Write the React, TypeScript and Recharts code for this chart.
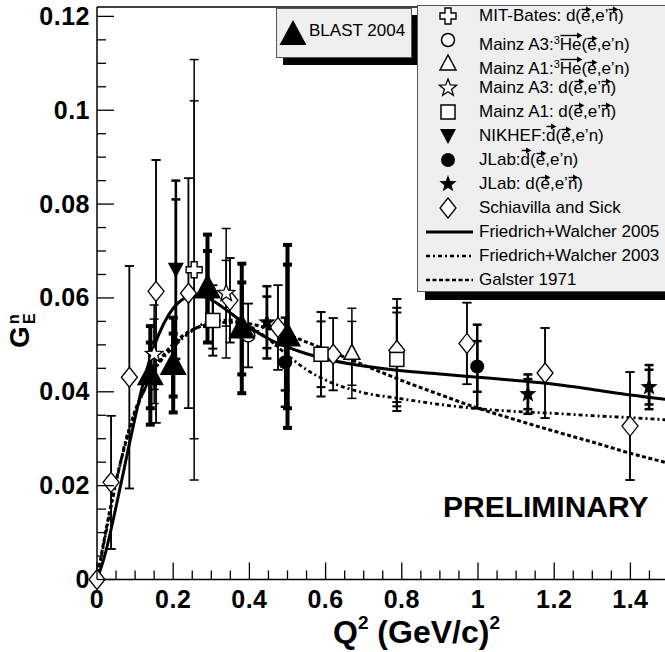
import React from "react";
import { ComposedChart, Line, Scatter, XAxis, YAxis, ErrorBar, ReferenceLine } from "recharts";

// each point: [Q2, GEn, inner error, outer error]
type Pt = [number, number, number, number];

const blast2004: Pt[] = [
  [0.14, 0.0435, 0.007, 0.0105],
  [0.2, 0.0457, 0.0067, 0.0101],
  [0.29, 0.062, 0.008, 0.0115],
  [0.38, 0.0535, 0.0098, 0.0138],
  [0.5, 0.0518, 0.0153, 0.0195],
];
const mitBates: Pt[] = [[0.255, 0.066, 0.036, 0.0448]];
const mainzA3He: Pt[] = [[0.397, 0.052, 0.0068, 0.0068]];
const mainzA1He: Pt[] = [[0.669, 0.0482, 0.0068, 0.0096]];
const mainzA3d: Pt[] = [[0.15, 0.048, 0.0075, 0.0105], [0.339, 0.061, 0.007, 0.0138]];
const mainzA1d: Pt[] = [[0.304, 0.0552, 0.006, 0.0075], [0.588, 0.048, 0.007, 0.009], [0.787, 0.0469, 0.01, 0.011]];
const nikhef: Pt[] = [[0.207, 0.066, 0.015, 0.019]];
const jlabPolD: Pt[] = [[0.494, 0.0463, 0.006, 0.0095], [0.998, 0.0454, 0.0054, 0.0089]];
const jlabPolN: Pt[] = [[0.446, 0.0548, 0.0055, 0.0077], [1.131, 0.0395, 0.0032, 0.0042], [1.449, 0.041, 0.0037, 0.0047]];
const schiavillaSick: Pt[] = [
  [0, 0, 0, 0],
  [0.037, 0.0207, 0.0142, 0.0142],
  [0.085, 0.0431, 0.0237, 0.0237],
  [0.155, 0.0614, 0.028, 0.028],
  [0.24, 0.061, 0.0245, 0.0245],
  [0.349, 0.0595, 0.009, 0.009],
  [0.475, 0.0537, 0.009, 0.009],
  [0.62, 0.048, 0.0077, 0.0077],
  [0.787, 0.0488, 0.011, 0.011],
  [0.971, 0.0503, 0.0087, 0.0087],
  [1.176, 0.044, 0.0096, 0.0096],
  [1.399, 0.0327, 0.0115, 0.0115],
];

// model curves
const fw2005Q2 = [0, 0.02, 0.05, 0.08, 0.1, 0.125, 0.15, 0.175, 0.2, 0.225, 0.25, 0.275, 0.3, 0.35, 0.4, 0.45, 0.5, 0.55, 0.6, 0.7, 0.8, 0.9, 1.0, 1.1, 1.2, 1.3, 1.4, 1.5];
const fw2005GE = [0, 0.005, 0.0155, 0.027, 0.0345, 0.043, 0.0497, 0.0545, 0.0578, 0.0597, 0.0605, 0.0604, 0.0596, 0.0568, 0.0538, 0.0513, 0.0495, 0.0481, 0.047, 0.0455, 0.0445, 0.0438, 0.0431, 0.0424, 0.0416, 0.0405, 0.0393, 0.0383];
const curveQ2 = [0, 0.02, 0.05, 0.08, 0.1, 0.125, 0.15, 0.2, 0.25, 0.3, 0.35, 0.4, 0.45, 0.5, 0.55, 0.6, 0.7, 0.8, 0.9, 1.0, 1.1, 1.2, 1.3, 1.4, 1.5];
const fw2003GE = [0, 0.0085, 0.0205, 0.031, 0.0355, 0.0405, 0.0445, 0.0495, 0.053, 0.0551, 0.0553, 0.054, 0.0512, 0.0478, 0.0447, 0.0425, 0.0398, 0.0385, 0.0373, 0.0364, 0.0358, 0.0354, 0.0349, 0.0345, 0.034];
const galsterGE = [0, 0.009, 0.021, 0.0305, 0.036, 0.0405, 0.0447, 0.0502, 0.0532, 0.0545, 0.0548, 0.0545, 0.0535, 0.0522, 0.0506, 0.049, 0.0457, 0.0424, 0.0394, 0.0365, 0.034, 0.0316, 0.0293, 0.0269, 0.0248];

const xTicks = [0, 0.05, 0.1, 0.15, 0.2, 0.25, 0.3, 0.35, 0.4, 0.45, 0.5, 0.55, 0.6, 0.65, 0.7, 0.75, 0.8, 0.85, 0.9, 0.95, 1, 1.05, 1.1, 1.15, 1.2, 1.25, 1.3, 1.35, 1.4, 1.45, 1.5];
const xLabels = [0, 0.2, 0.4, 0.6, 0.8, 1, 1.2, 1.4];
const yTicks = [0, 0.005, 0.01, 0.015, 0.02, 0.025, 0.03, 0.035, 0.04, 0.045, 0.05, 0.055, 0.06, 0.065, 0.07, 0.075, 0.08, 0.085, 0.09, 0.095, 0.1, 0.105, 0.11, 0.115, 0.12];
const yLabels = [0, 0.02, 0.04, 0.06, 0.08, 0.1, 0.12];

const FONT = '"Liberation Sans", Arial, Helvetica, sans-serif';

const toPts = (a: Pt[]) => a.map(([x, y, a1, a2]) => ({ x, y, a: a1, b: a2 }));
const toLine = (xs: number[], ys: number[]) => xs.map((x, i) => ({ x, y: ys[i] }));

function starPoints(cx: number, cy: number, R: number, r: number) {
  const pts: string[] = [];
  for (let i = 0; i < 10; i++) {
    const ang = -Math.PI / 2 + (i * Math.PI) / 5;
    const rad = i % 2 === 0 ? R : r;
    pts.push(`${cx + rad * Math.cos(ang)},${cy + rad * Math.sin(ang)}`);
  }
  return pts.join(" ");
}

function Marker({ kind, cx, cy }: { kind: string; cx: number; cy: number }) {
  const k = "#000";
  switch (kind) {
    case "blast":
      return <polygon points={`${cx},${cy - 15} ${cx - 13.5},${cy + 10} ${cx + 13.5},${cy + 10}`} fill={k} />;
    case "cross":
      return (
        <path
          d={`M${cx - 3},${cy - 8} h6 v5 h5 v6 h-5 v5 h-6 v-5 h-5 v-6 h5 Z`}
          fill="#fff" stroke={k} strokeWidth={1.4}
        />
      );
    case "circle":
      return <circle cx={cx} cy={cy} r={6.5} fill="#fff" stroke={k} strokeWidth={1.5} />;
    case "triangle":
      return <polygon points={`${cx},${cy - 9} ${cx - 8},${cy + 6} ${cx + 8},${cy + 6}`} fill="#fff" stroke={k} strokeWidth={1.5} />;
    case "ostar":
      return <polygon points={starPoints(cx, cy, 9, 3.8)} fill="#fff" stroke={k} strokeWidth={1.3} />;
    case "square":
      return <rect x={cx - 7} y={cy - 7} width={14} height={14} fill="#fff" stroke={k} strokeWidth={1.5} />;
    case "itriangle":
      return <polygon points={`${cx - 8},${cy - 7} ${cx + 8},${cy - 7} ${cx},${cy + 8}`} fill={k} />;
    case "fcircle":
      return <circle cx={cx} cy={cy} r={7} fill={k} />;
    case "fstar":
      return <polygon points={starPoints(cx, cy, 9, 3.8)} fill={k} />;
    case "diamond":
      return <polygon points={`${cx},${cy - 10} ${cx + 8},${cy} ${cx},${cy + 10} ${cx - 8},${cy}`} fill="#fff" stroke={k} strokeWidth={1.3} />;
    default:
      return null;
  }
}

const series = [
  { name: "Schiavilla and Sick", data: toPts(schiavillaSick), kind: "diamond", sw: 1.5 },
  { name: "MIT-Bates", data: toPts(mitBates), kind: "cross", sw: 1.5 },
  { name: "Mainz A3 3He", data: toPts(mainzA3He), kind: "circle", sw: 1.5 },
  { name: "Mainz A1 3He", data: toPts(mainzA1He), kind: "triangle", sw: 1.5 },
  { name: "Mainz A3 d", data: toPts(mainzA3d), kind: "ostar", sw: 1.5 },
  { name: "Mainz A1 d", data: toPts(mainzA1d), kind: "square", sw: 2 },
  { name: "NIKHEF", data: toPts(nikhef), kind: "itriangle", sw: 2.5 },
  { name: "JLab d", data: toPts(jlabPolD), kind: "fcircle", sw: 2.5 },
  { name: "JLab n", data: toPts(jlabPolN), kind: "fstar", sw: 2.5 },
  { name: "BLAST 2004", data: toPts(blast2004), kind: "blast", sw: 4 },
];

const fmt = (v: number) => String(+v.toFixed(3));
const isIn = (v: number, list: number[]) => list.some((l) => Math.abs(l - v) < 1e-6);

function YTick(props: any) {
  const { x, y, payload } = props;
  const major = isIn(payload.value, yLabels);
  return (
    <g>
      <line x1={x} y1={y} x2={x + (major ? 17 : 9)} y2={y} stroke="#000" strokeWidth={1.3} />
      {major && (
        <text x={x - 7} y={y + 8.5} textAnchor="end" fontFamily={FONT} fontWeight="bold" fontSize={25} letterSpacing={0.5} fill="#000">
          {fmt(payload.value)}
        </text>
      )}
    </g>
  );
}

function XTick(props: any) {
  const { x, y, payload } = props;
  const major = isIn(payload.value, xLabels);
  return (
    <g>
      <line x1={x} y1={y} x2={x} y2={y - (major ? 17 : 9)} stroke="#000" strokeWidth={1.3} />
      {major && (
        <text x={x} y={y + 28} textAnchor="middle" fontFamily={FONT} fontWeight="bold" fontSize={25} letterSpacing={0.5} fill="#000">
          {fmt(payload.value)}
        </text>
      )}
    </g>
  );
}

// vector arrow over a letter
function V({ children, w = 9, top = 2 }: { children: React.ReactNode; w?: number; top?: number }) {
  return (
    <span style={{ position: "relative", display: "inline-block" }}>
      {children}
      <svg width={w + 2} height={7} style={{ position: "absolute", left: 0, top }}>
        <line x1={0.5} y1={3.5} x2={w - 3} y2={3.5} stroke="#000" strokeWidth={1.4} />
        <polygon points={`${w - 4},0.5 ${w + 1.5},3.5 ${w - 4},6.5`} fill="#000" />
      </svg>
    </span>
  );
}

const legendRows: { kind?: string; line?: string; label: React.ReactNode }[] = [
  { kind: "cross", label: <>MIT-Bates: d(<V>e</V>,e’<V>n</V>)</> },
  { kind: "circle", label: <>Mainz A3:<sup style={{ fontSize: 11, verticalAlign: 6 }}>3</sup><V w={21} top={-1}>He</V>(<V>e</V>,e’n)</> },
  { kind: "triangle", label: <>Mainz A1:<sup style={{ fontSize: 11, verticalAlign: 6 }}>3</sup><V w={21} top={-1}>He</V>(<V>e</V>,e’n)</> },
  { kind: "ostar", label: <>Mainz A3: d(<V>e</V>,e’<V>n</V>)</> },
  { kind: "square", label: <>Mainz A1: d(<V>e</V>,e’<V>n</V>)</> },
  { kind: "itriangle", label: <>NIKHEF:<V top={-1}>d</V>(<V>e</V>,e’n)</> },
  { kind: "fcircle", label: <>JLab:<V top={-1}>d</V>(<V>e</V>,e’n)</> },
  { kind: "fstar", label: <>JLab: d(<V>e</V>,e’<V>n</V>)</> },
  { kind: "diamond", label: <>Schiavilla and Sick</> },
  { line: "", label: <>Friedrich+Walcher 2005</> },
  { line: "4 3 2 3", label: <>Friedrich+Walcher 2003</> },
  { line: "4 2.5", label: <>Galster 1971</> },
];

const ROW = 24;

export default function App() {
  return (
    <div style={{ position: "absolute", left: 0, top: 0, width: 665, height: 652, overflow: "hidden", background: "#fff" }}>
      <ComposedChart width={672} height={652} margin={{ top: 7, right: 3.5, bottom: 0, left: 0 }}>
        <XAxis
          type="number" dataKey="x" domain={[0, 1.5]} ticks={xTicks} interval={0}
          tickSize={0} tickMargin={0} tickLine={false} height={72.5}
          axisLine={{ stroke: "#000", strokeWidth: 1.5 }} tick={(p: any) => <XTick {...p} />}
        />
        <YAxis
          type="number" dataKey="y" domain={[0, 0.122]} ticks={yTicks} interval={0}
          tickSize={0} tickMargin={0} tickLine={false} width={97}
          axisLine={{ stroke: "#000", strokeWidth: 1.5 }} tick={(p: any) => <YTick {...p} />}
        />
        <ReferenceLine y={0.122} stroke="#000" strokeWidth={1.5} />
        <Line data={toLine(curveQ2, galsterGE)} dataKey="y" type="monotone" dot={false} stroke="#000" strokeWidth={3} strokeDasharray="4 2.5" isAnimationActive={false} />
        <Line data={toLine(curveQ2, fw2003GE)} dataKey="y" type="monotone" dot={false} stroke="#000" strokeWidth={2.8} strokeDasharray="4 3 2 3" isAnimationActive={false} />
        <Line data={toLine(fw2005Q2, fw2005GE)} dataKey="y" type="monotone" dot={false} stroke="#000" strokeWidth={3} isAnimationActive={false} />
        {series.map((s) => (
          <Scatter
            key={s.name}
            data={s.data}
            isAnimationActive={false}
            shape={(p: any) => <Marker kind={s.kind} cx={p.cx} cy={p.cy} />}
          >
            <ErrorBar dataKey="b" direction="y" width={4.5} stroke="#000" strokeWidth={s.sw} isAnimationActive={false} />
            <ErrorBar dataKey="a" direction="y" width={4.5} stroke="#000" strokeWidth={s.sw} isAnimationActive={false} />
          </Scatter>
        ))}
      </ComposedChart>

      {/* titles */}
      <svg width={665} height={652} style={{ position: "absolute", left: 0, top: 0, pointerEvents: "none" }}>
        <text x={333} y={643} fontFamily={FONT} fontWeight="bold" fontSize={32} fill="#000">
          Q<tspan dy={-14} fontSize={19}>2</tspan>
          <tspan dy={14}> (GeV/c)</tspan>
          <tspan dy={-14} fontSize={19}>2</tspan>
        </text>
        <g transform="translate(29,348) rotate(-90)">
          <text x={0} y={0} fontFamily={FONT} fontWeight="bold" fontSize={28} fill="#000">G</text>
          <text x={24} y={-10} fontFamily={FONT} fontWeight="bold" fontSize={16} fill="#000">n</text>
          <text x={24} y={6} fontFamily={FONT} fontWeight="bold" fontSize={16} fill="#000">E</text>
        </g>
        <text x={443} y={517} fontFamily={FONT} fontWeight="bold" fontSize={30} fill="#000">PRELIMINARY</text>
      </svg>

      {/* BLAST legend */}
      <div
        style={{
          position: "absolute", left: 276, top: 8, width: 134, height: 48,
          background: "#efefef", border: "1px solid #555", boxShadow: "7px 7px 0 #000",
          fontFamily: FONT, fontSize: 17,
        }}
      >
        <svg width={40} height={48} style={{ position: "absolute", left: 0, top: 0 }}>
          <Marker kind="blast" cx={16} cy={26} />
        </svg>
        <span style={{ position: "absolute", left: 32, top: 12, lineHeight: "20px" }}>BLAST 2004</span>
      </div>

      {/* main legend */}
      <div
        style={{
          position: "absolute", left: 417, top: 5, width: 270, height: 285,
          background: "#efefef", border: "1px solid #555", boxShadow: "8px 8px 0 #000",
          fontFamily: FONT, fontSize: 17, color: "#000",
        }}
      >
        {legendRows.map((r, i) => (
          <div key={i} style={{ position: "absolute", left: 0, top: 16 - 6 + ROW * i - ROW / 2, height: ROW, lineHeight: `${ROW}px`, whiteSpace: "nowrap" }}>
            <svg width={60} height={ROW} style={{ position: "absolute", left: 0, top: 0 }}>
              {r.kind ? (
                <Marker kind={r.kind} cx={30} cy={ROW / 2} />
              ) : (
                <line x1={8} y1={ROW / 2} x2={55} y2={ROW / 2} stroke="#000" strokeWidth={r.line ? 2.5 : 3} strokeDasharray={r.line || undefined} />
              )}
            </svg>
            <span style={{ position: "absolute", left: 61, top: 0 }}>{r.label}</span>
          </div>
        ))}
      </div>
    </div>
  );
}
